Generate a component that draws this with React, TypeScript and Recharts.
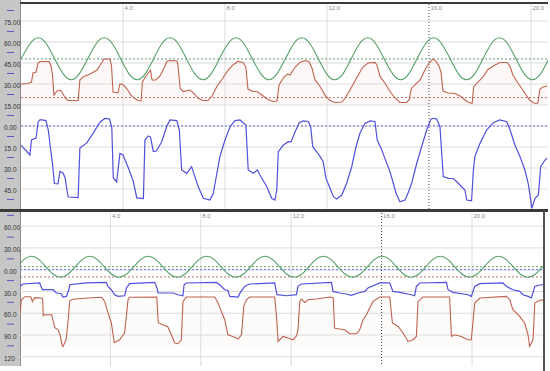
import { ComposedChart, Line, Area, XAxis, YAxis, ReferenceLine } from 'recharts';

type Pair = [number, number];

// time (s) / value pairs
const topGreen: Pair[] = [
  [0.00, 48], [0.35, 58.6], [0.68, 63], [1.00, 58.6], [1.32, 48], [1.65, 37.4], [1.97, 33], [2.29, 37.4],
  [2.62, 48], [2.94, 58.6], [3.26, 63], [3.59, 58.6], [3.91, 48], [4.23, 37.4], [4.55, 33], [4.88, 37.4],
  [5.20, 48], [5.52, 58.6], [5.85, 63], [6.17, 58.6], [6.49, 48], [6.81, 37.4], [7.14, 33], [7.46, 37.4],
  [7.78, 48], [8.11, 58.6], [8.43, 63], [8.75, 58.6], [9.07, 48], [9.40, 37.4], [9.72, 33], [10.04, 37.4],
  [10.37, 48], [10.69, 58.6], [11.01, 63], [11.34, 58.6], [11.66, 48], [11.98, 37.4], [12.30, 33], [12.63, 37.4],
  [12.95, 48], [13.27, 58.6], [13.60, 63], [13.92, 58.6], [14.24, 48], [14.57, 37.4], [14.89, 33], [15.21, 37.4],
  [15.53, 48], [15.86, 58.6], [16.18, 63], [16.50, 58.6], [16.83, 48], [17.15, 37.4], [17.47, 33], [17.80, 37.4],
  [18.12, 48], [18.44, 58.6], [18.76, 63], [19.09, 58.6], [19.41, 48], [19.73, 37.4], [20.06, 33], [20.38, 37.4],
  [20.70, 48],
];

const topRed: Pair[] = [
  [0.00, 30.0], [0.27, 30.4], [0.41, 31.4], [0.47, 37.9], [0.59, 38.6], [0.67, 45.0], [0.75, 46.1], [1.10, 46.1],
  [1.18, 42.9], [1.24, 35.7], [1.29, 22.1], [1.41, 25.0], [1.53, 25.7], [1.61, 24.3], [1.73, 20.0], [1.84, 18.2],
  [2.24, 18.2], [2.31, 32.9], [2.43, 35.0], [2.71, 37.1], [2.98, 40.0], [3.16, 45.0], [3.25, 47.9], [3.49, 47.9],
  [3.55, 42.9], [3.61, 24.3], [3.80, 23.6], [3.88, 30.0], [4.00, 29.6], [4.16, 26.4], [4.31, 22.1], [4.47, 19.6],
  [4.59, 18.2], [4.71, 17.9], [4.76, 31.4], [4.90, 35.7], [5.02, 38.6], [5.08, 40.0], [5.14, 32.9], [5.29, 32.9],
  [5.45, 35.7], [5.61, 41.4], [5.73, 46.4], [5.92, 46.8], [6.12, 46.4], [6.16, 42.9], [6.24, 27.1], [6.35, 24.6],
  [6.63, 25.7], [6.75, 23.9], [6.94, 20.0], [7.14, 18.2], [7.33, 18.2], [7.49, 21.4], [7.69, 28.6], [7.88, 33.2],
  [8.08, 38.9], [8.31, 43.6], [8.51, 46.1], [8.71, 45.4], [8.82, 42.1], [8.90, 26.4], [9.10, 24.6], [9.25, 24.6],
  [9.45, 22.1], [9.65, 19.3], [9.88, 17.5], [10.04, 17.9], [10.12, 29.3], [10.31, 35.0], [10.45, 37.1], [10.55, 36.4],
  [10.75, 42.1], [10.94, 45.4], [11.14, 46.8], [11.29, 46.1], [11.41, 41.4], [11.53, 32.9], [11.73, 28.2], [11.92, 22.1],
  [12.12, 18.2], [12.31, 16.8], [12.59, 17.1], [12.71, 20.0], [12.90, 25.7], [13.18, 35.0], [13.41, 42.1], [13.61, 45.0],
  [13.88, 45.4], [13.96, 43.6], [14.08, 35.4], [14.27, 30.7], [14.47, 24.6], [14.67, 20.0], [14.86, 16.8], [15.12, 16.8],
  [15.22, 18.6], [15.31, 26.8], [15.45, 29.3], [15.65, 32.9], [15.84, 40.0], [16.00, 45.0], [16.16, 47.9], [16.27, 46.4],
  [16.39, 42.9], [16.47, 38.6], [16.55, 25.0], [16.75, 23.6], [17.02, 23.2], [17.25, 21.1], [17.49, 17.5], [17.69, 16.1],
  [17.75, 27.9], [17.88, 30.7], [18.12, 35.0], [18.31, 40.4], [18.59, 43.6], [18.78, 45.4], [19.06, 45.4], [19.18, 42.5],
  [19.29, 36.4], [19.49, 30.7], [19.76, 23.6], [19.96, 18.2], [20.16, 16.1], [20.27, 16.4], [20.35, 26.4], [20.47, 27.9],
  [20.63, 28.6],
];

const topBlue: Pair[] = [
  [0.00, -13.6], [0.35, -20.7], [0.41, -10.0], [0.59, -8.6], [0.67, 2.9], [0.75, 4.6], [0.98, 3.9], [1.07, -2.9],
  [1.14, -13.6], [1.24, -27.9], [1.31, -41.1], [1.45, -41.4], [1.53, -32.5], [1.65, -33.6], [1.73, -37.1], [1.79, -44.3],
  [1.85, -50.7], [2.24, -51.1], [2.31, -15.7], [2.58, -12.1], [2.82, -5.4], [3.10, 2.9], [3.29, 5.4], [3.47, 5.0],
  [3.56, -0.7], [3.62, -37.1], [3.75, -40.0], [3.88, -19.6], [4.00, -20.7], [4.21, -30.0], [4.40, -39.3], [4.54, -51.4],
  [4.80, -51.8], [4.86, -10.0], [4.99, -7.1], [5.08, -7.9], [5.19, -18.2], [5.31, -17.9], [5.52, -11.2], [5.71, -0.5],
  [5.84, 4.3], [6.11, 3.9], [6.21, -2.9], [6.30, -31.4], [6.50, -33.8], [6.69, -29.1], [6.82, -36.2], [6.95, -43.4],
  [7.15, -51.6], [7.41, -52.9], [7.54, -48.1], [7.80, -21.9], [8.00, -10.0], [8.20, -0.5], [8.39, 3.8], [8.59, 4.3],
  [8.72, 2.1], [8.82, 0.7], [8.91, -31.4], [9.11, -33.8], [9.27, -31.4], [9.37, -35.0], [9.64, -43.4], [9.83, -51.6],
  [9.96, -52.9], [10.03, -45.7], [10.09, -18.4], [10.29, -13.6], [10.48, -11.2], [10.59, -11.4], [10.75, -4.1], [10.91, 2.4],
  [11.07, 3.6], [11.27, 3.2], [11.36, -0.5], [11.44, -14.8], [11.60, -18.4], [11.73, -21.9], [11.85, -25.5], [11.96, -37.4],
  [12.12, -44.5], [12.25, -50.5], [12.38, -52.1], [12.58, -49.3], [12.77, -40.9], [12.97, -29.1], [13.14, -14.8], [13.29, -5.2],
  [13.49, 1.9], [13.69, 3.6], [13.88, 3.2], [13.97, -10.0], [14.15, -17.1], [14.27, -23.1], [14.47, -32.6], [14.60, -40.9],
  [14.71, -48.1], [14.86, -54.1], [15.06, -52.9], [15.18, -47.9], [15.32, -40.9], [15.52, -26.6], [15.71, -14.8], [15.91, -2.9],
  [16.07, 4.8], [16.17, 5.5], [16.30, 5.0], [16.43, -0.5], [16.56, -36.2], [16.76, -37.4], [16.95, -37.5], [17.09, -39.8],
  [17.28, -43.4], [17.41, -45.7], [17.48, -52.9], [17.67, -53.4], [17.74, -31.4], [17.80, -21.9], [18.00, -12.4], [18.26, -2.9],
  [18.52, 2.4], [18.78, 4.3], [19.05, 3.1], [19.18, -2.9], [19.37, -13.6], [19.57, -21.9], [19.76, -31.4], [19.89, -40.9],
  [19.99, -52.9], [20.03, -58.8], [20.16, -51.6], [20.29, -49.3], [20.38, -29.1], [20.55, -24.3], [20.63, -22.9],
];

const bottomGreen: Pair[] = [
  [0.00, 8], [0.18, 14.3], [0.50, 18.5], [0.83, 14.3], [1.15, 4], [1.47, -6.3], [1.80, -10.5], [2.12, -6.3], [2.44, 4],
  [2.77, 14.3], [3.09, 18.5], [3.41, 14.3], [3.73, 4], [4.06, -6.3], [4.38, -10.5], [4.70, -6.3], [5.03, 4],
  [5.35, 14.3], [5.67, 18.5], [6.00, 14.3], [6.32, 4], [6.64, -6.3], [6.96, -10.5], [7.29, -6.3], [7.61, 4],
  [7.93, 14.3], [8.26, 18.5], [8.58, 14.3], [8.90, 4], [9.23, -6.3], [9.55, -10.5], [9.87, -6.3], [10.20, 4],
  [10.52, 14.3], [10.84, 18.5], [11.17, 14.3], [11.49, 4], [11.81, -6.3], [12.13, -10.5], [12.46, -6.3], [12.78, 4],
  [13.10, 14.3], [13.43, 18.5], [13.75, 14.3], [14.07, 4], [14.40, -6.3], [14.72, -10.5], [15.04, -6.3], [15.37, 4],
  [15.69, 14.3], [16.01, 18.5], [16.34, 14.3], [16.66, 4], [16.98, -6.3], [17.30, -10.5], [17.63, -6.3], [17.95, 4],
  [18.27, 14.3], [18.60, 18.5], [18.92, 14.3], [19.24, 4], [19.57, -6.3], [19.89, -10.5], [20.21, -6.3], [20.54, 4],
  [20.86, 14.3], [21.18, 18.5], [21.50, 14.3], [21.83, 4], [22.15, -6.3], [22.47, -10.5], [22.80, -6.3], [23.12, 4],
  [23.44, 14.3],
];

const bottomBlue: Pair[] = [
  [0.00, -23.0], [0.13, -19.7], [0.87, -18.3], [0.99, -27.6], [1.46, -27.6], [1.61, -32.1], [1.83, -33.1], [1.90, -37.7],
  [2.05, -36.8], [2.17, -26.6], [2.20, -20.7], [2.94, -18.3], [3.82, -17.5], [3.89, -23.0], [4.04, -27.6], [4.19, -34.5],
  [4.34, -36.8], [4.63, -35.9], [4.71, -25.2], [4.85, -19.3], [5.96, -17.5], [6.06, -25.2], [6.11, -32.1], [6.77, -32.1],
  [6.99, -34.5], [7.21, -35.9], [7.26, -20.7], [7.36, -18.3], [8.69, -17.5], [8.84, -20.7], [9.06, -27.6], [9.20, -28.6],
  [9.28, -36.8], [9.65, -37.7], [9.75, -31.3], [9.94, -23.0], [10.16, -19.7], [11.27, -18.3], [11.31, -25.2], [11.37, -34.5],
  [11.79, -35.9], [12.23, -34.5], [12.30, -23.0], [12.45, -19.7], [13.78, -17.5], [13.85, -29.9], [14.15, -32.1], [14.44, -33.5],
  [14.66, -35.4], [14.96, -32.1], [15.25, -29.9], [15.40, -25.2], [15.92, -18.3], [16.36, -18.3], [16.50, -29.9], [16.80, -31.3],
  [17.32, -34.5], [17.46, -35.9], [17.54, -23.0], [17.69, -18.3], [18.87, -17.5], [18.94, -27.6], [19.16, -31.3], [19.82, -34.5],
  [19.97, -36.8], [20.12, -23.0], [20.34, -19.3], [21.37, -18.3], [21.52, -23.0], [21.81, -27.6], [22.11, -29.9], [22.26, -34.5],
  [22.48, -36.8], [22.63, -39.0], [22.78, -23.0], [23.00, -21.1], [23.22, -20.7],
];

const bottomRed: Pair[] = [
  [0.00, -62.1], [0.06, -41.4], [0.21, -37.2], [0.47, -37.2], [0.55, -43.7], [0.65, -38.6], [1.00, -39.3], [1.03, -63.4],
  [1.09, -62.1], [1.40, -62.1], [1.54, -80.0], [1.69, -82.8], [1.78, -91.0], [1.87, -104.8], [1.90, -106.2], [2.04, -96.6],
  [2.12, -73.1], [2.20, -42.8], [2.33, -40.7], [2.86, -39.3], [3.53, -37.9], [3.64, -38.6], [3.75, -44.1], [3.89, -59.3],
  [4.04, -73.1], [4.17, -100.7], [4.41, -96.6], [4.63, -86.9], [4.78, -41.4], [4.85, -37.9], [6.05, -37.7], [6.12, -73.1],
  [6.31, -75.9], [6.54, -78.6], [6.70, -89.7], [6.85, -101.1], [6.99, -102.1], [7.14, -96.6], [7.21, -43.7], [7.36, -37.7],
  [8.62, -37.7], [8.76, -45.5], [8.91, -57.5], [9.06, -69.0], [9.20, -89.7], [9.42, -92.0], [9.65, -95.6], [9.80, -89.7],
  [9.90, -50.6], [10.02, -41.4], [10.16, -37.7], [11.27, -37.7], [11.35, -64.4], [11.42, -98.9], [11.64, -92.0], [11.86, -94.2],
  [12.08, -96.6], [12.24, -91.0], [12.30, -82.8], [12.38, -43.7], [12.45, -40.4], [12.60, -45.1], [12.74, -41.4], [13.12, -40.4],
  [13.70, -37.7], [13.86, -38.6], [13.92, -80.4], [14.07, -81.4], [14.37, -82.8], [14.59, -88.3], [14.88, -88.3], [15.03, -82.8],
  [15.18, -69.0], [15.33, -62.1], [15.47, -52.8], [15.62, -43.7], [15.92, -37.7], [16.36, -37.7], [16.48, -73.5], [16.73, -78.2],
  [16.95, -87.3], [17.17, -98.9], [17.39, -96.6], [17.54, -92.0], [17.61, -43.7], [17.83, -37.7], [19.01, -37.7], [19.09, -92.0],
  [19.23, -89.7], [19.53, -92.0], [19.82, -96.6], [19.97, -96.6], [20.12, -45.9], [20.35, -39.0], [21.52, -36.8], [21.67, -41.4],
  [21.81, -55.2], [22.11, -64.4], [22.33, -73.5], [22.48, -89.7], [22.55, -105.8], [22.70, -96.6], [22.78, -45.9], [23.00, -42.3],
  [23.22, -41.4],
];

// axis ticks
const xTickValues = [4, 8, 12, 16, 20];
const xTickLabels = ['4.0', '8.0', '12.0', '16.0', '20.0'];

const topYValues = [75, 60, 45, 30, 15, 0, -15, -30, -45];
const topYLabels = ['75.00', '60.00', '45.00', '30.00', '15.00', '0.00', '15.0', '30.0', '45.0'];
const topYMinor = [82.5, 67.5, 52.5, 37.5, 22.5, 7.5, -7.5, -22.5, -37.5, -52.5];

const bottomYValues = [60, 30, 0, -30, -60, -90, -120];
const bottomYLabels = ['60.00', '30.00', '0.00', '30.0', '60.0', '90.0', '120'];
const bottomYMinor = [75, 45, 15, -15, -45, -75, -105];

// dotted reference levels [green, blue, red]
const topLevels = [47.9, 0, 20.3];
const bottomLevels = [4.1, 0, -10];

const GREEN = '#55a068';
const RED = '#c0624f';
const BLUE = '#5050dc';
const GRID = '#dcdcdc';
const FONT = '"Liberation Sans", Arial, sans-serif';

const pts = (p: Pair[]) => p.map(([t, v]) => ({ t, v }));

interface PanelProps {
  height: number;
  margin: { top: number; right: number; bottom: number; left: number };
  yAxisWidth: number;
  xMax: number;
  yDomain: [number, number];
  green: Pair[];
  red: Pair[];
  blue: Pair[];
  levels: number[];
  yValues: number[];
  yLabels: string[];
  yMinor: number[];
  xLabelY: number;
  redBase: number;
  pinkOpacity: number;
}

const Panel = ({ height, margin, yAxisWidth, xMax, yDomain, green, red, blue, levels, yValues, yLabels, yMinor, xLabelY, redBase, pinkOpacity }: PanelProps) => {
  const renderYTick = (props: any) => {
    const { y, payload } = props;
    const i = yValues.indexOf(payload.value);
    if (i >= 0) {
      return (
        <text x={4} y={y + 1.6} dominantBaseline="central" fontSize={6.5} fill="#333" fontFamily={FONT}>
          {yLabels[i]}
        </text>
      );
    }
    return <line x1={7} x2={14} y1={y} y2={y} stroke="#5858c8" strokeWidth={1} />;
  };

  const renderXTick = (props: any) => {
    const { x, payload } = props;
    const i = xTickValues.indexOf(payload.value);
    return (
      <text x={x + 1.5} y={xLabelY} fontSize={6} fill="#8a8a8a" fontFamily={FONT}>
        {xTickLabels[i]}
      </text>
    );
  };

  return (
    <ComposedChart width={550} height={height} margin={margin}>
      <XAxis
        type="number"
        dataKey="t"
        orientation="top"
        domain={[0, xMax]}
        ticks={xTickValues}
        interval={0}
        height={1}
        axisLine={false}
        tickLine={false}
        tick={renderXTick}
        allowDataOverflow
      />
      <YAxis
        type="number"
        domain={yDomain}
        ticks={[...yValues, ...yMinor].sort((a, b) => b - a)}
        interval={0}
        width={yAxisWidth}
        axisLine={false}
        tickLine={false}
        tick={renderYTick}
        allowDataOverflow
      />
      {yValues.map((v) => (
        <ReferenceLine key={`h${v}`} y={v} stroke={GRID} strokeWidth={1} />
      ))}
      {xTickValues.filter((t) => t !== 16).map((t) => (
        <ReferenceLine key={`v${t}`} x={t} stroke={GRID} strokeWidth={1} />
      ))}
      <ReferenceLine x={16} stroke="#444" strokeWidth={1} strokeDasharray="1 2" />
      <ReferenceLine y={levels[0]} stroke="#5f9a72" strokeDasharray="2 2" />
      <ReferenceLine y={levels[1]} stroke="#6c6ce0" strokeDasharray="2 2" />
      <ReferenceLine y={levels[2]} stroke="#b97464" strokeDasharray="2 2" />
      <Area
        data={pts(red)}
        dataKey="v"
        type="linear"
        baseValue={redBase}
        stroke="none"
        fill="#f29a9a"
        fillOpacity={pinkOpacity}
        isAnimationActive={false}
      />
      <Line data={pts(green)} dataKey="v" type="natural" stroke={GREEN} strokeWidth={1.1} dot={false} activeDot={false} isAnimationActive={false} />
      <Line data={pts(red)} dataKey="v" type="linear" stroke={RED} strokeWidth={1.1} dot={false} activeDot={false} isAnimationActive={false} />
      <Line data={pts(blue)} dataKey="v" type="linear" stroke={BLUE} strokeWidth={1.2} dot={false} activeDot={false} isAnimationActive={false} />
    </ComposedChart>
  );
};

export default function App() {
  return (
    <div style={{ position: 'absolute', left: 0, top: 0, width: 550, height: 371, background: '#fff', overflow: 'hidden' }}>
      <div style={{ position: 'absolute', left: 0, top: 0, width: 20, height: 366, background: '#c6c6c6' }} />
      <div style={{ position: 'absolute', left: 20, top: 0, width: 1, height: 366, background: '#8c8c8c' }} />
      <div style={{ position: 'absolute', left: 0, top: 0 }}>
        <Panel
          height={211}
          margin={{ top: 3, right: 2, bottom: 1, left: 0 }}
          yAxisWidth={21}
          xMax={20.667}
          yDomain={[-60, 87.14]}
          green={topGreen}
          red={topRed}
          blue={topBlue}
          levels={topLevels}
          yValues={topYValues}
          yLabels={topYLabels}
          yMinor={topYMinor}
          xLabelY={9.5}
          redBase={15}
          pinkOpacity={0.08}
        />
      </div>
      <div style={{ position: 'absolute', left: 0, top: 211 }}>
        <Panel
          height={160}
          margin={{ top: 1, right: 5, bottom: 5, left: 0 }}
          yAxisWidth={20}
          xMax={23.23}
          yDomain={[-132.8, 78.2]}
          green={bottomGreen}
          red={bottomRed}
          blue={bottomBlue}
          levels={bottomLevels}
          yValues={bottomYValues}
          yLabels={bottomYLabels}
          yMinor={bottomYMinor}
          xLabelY={6.5}
          redBase={-106}
          pinkOpacity={0.04}
        />
      </div>
      <div style={{ position: 'absolute', left: 20, top: 2, width: 528, height: 2, background: '#3a3a3a' }} />
      <div style={{ position: 'absolute', left: 0, top: 209, width: 548, height: 3, background: '#3a3a3a' }} />
      <div style={{ position: 'absolute', left: 543, top: 211, width: 2, height: 160, background: '#555' }} />
    </div>
  );
}
